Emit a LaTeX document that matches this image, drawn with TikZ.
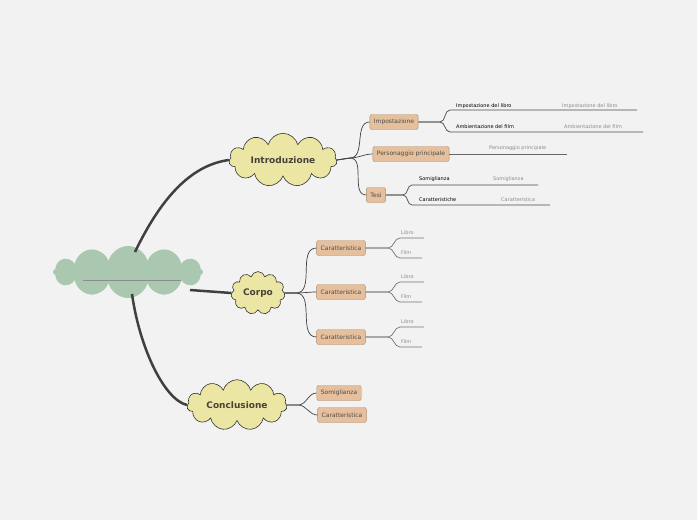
\documentclass[tikz,border=0pt]{standalone}
\usepackage{fontspec}
\setmainfont{DejaVu Sans}
\usetikzlibrary{shapes.symbols}
\begin{document}
\begin{tikzpicture}[x=1pt,y=-1pt,
  topic/.style={cloud,cloud puffs=11,draw=black!80,fill=yellow!25!orange!10!yellow!35,fill={rgb,255:red,236;green,230;blue,164},line width=0.6pt,font=\bfseries\fontsize{9}{10}\selectfont,text=black!60!yellow!40!black,inner sep=0pt},
  box/.style={draw={rgb,255:red,170;green,140;blue,110},fill={rgb,255:red,230;green,192;blue,156},rounded corners=2pt,font=\fontsize{6}{7}\selectfont,text=black!70,minimum height=15pt,inner xsep=4pt},
  leaf/.style={font=\fontsize{5}{6}\selectfont,anchor=south west,inner sep=1pt},
  grey/.style={leaf,text=black!45},
  br/.style={draw=black!75,line width=0.7pt},
  lb/.style={draw=black!70,line width=0.7pt},
  main/.style={draw=black!75,line width=2.5pt}]
\fill[black!5] (0,0) rectangle (697,520);
\useasboundingbox (0,0) rectangle (697,520);
% central
\node[cloud,cloud puffs=12,aspect=3.2,minimum width=150pt,minimum height=52pt,fill={rgb,255:red,170;green,200;blue,176},draw=none,inner sep=0pt] (c) at (128,272) {};
\draw[black!45,line width=0.5pt] (83,280) -- (181,280);
% topics
\node[topic,minimum width=108pt,minimum height=42pt,aspect=2.6] (i) at (283,160) {Introduzione};
\node[topic,minimum width=54pt,minimum height=42pt,aspect=1.2] (p) at (258,293) {Corpo};
\node[topic,minimum width=100pt,minimum height=40pt,aspect=2.6] (k) at (237,405) {Conclusione};
\draw[main] (135,252) .. controls (160,200) and (190,165) .. (i.west);
\draw[main] (190,290) -- (p.west);
\draw[main] (132,294) .. controls (140,350) and (165,400) .. (k.west);
% intro boxes
\node[box] (a1) at (394,122) {Impostazione};
\node[box] (a2) at (411,154) {Personaggio principale};
\node[box] (a3) at (376,195) {Tesi};
\foreach \n in {a1,a2,a3}{\draw[br] (i.east) -- (350,158) to[out=0,in=180] (\n.west);}
% leaves of a1
\coordinate (l1) at (450,110); \coordinate (l2) at (450,132);
\draw[lb] (a1.east) -- (440,122) to[out=0,in=180] (l1) -- (637,110);
\draw[lb] (a1.east) -- (440,122) to[out=0,in=180] (l2) -- (643,132);
\node[leaf] at (455,110) {Impostazione del libro};
\node[grey] at (561,110) {Impostazione del libro};
\node[leaf] at (455,130) {Ambientazione del film};
\node[grey] at (563,130) {Ambientazione del film};
\draw[lb,draw=black!60] (a2.east) -- (567,154);
\node[grey] at (488,152) {Personaggio principale};
\coordinate (t1) at (412,185); \coordinate (t2) at (412,205);
\draw[lb] (a3.east) -- (403,195) to[out=0,in=180] (t1) -- (538,185);
\draw[lb] (a3.east) -- (403,195) to[out=0,in=180] (t2) -- (550,205);
\node[leaf] at (418,183) {Somiglianza};
\node[grey] at (492,183) {Somiglianza};
\node[leaf] at (418,203) {Caratteristiche};
\node[grey] at (500,203) {Caratteristica};
% corpo
\foreach \y/\n in {248/b1,292/b2,337/b3}{
  \node[box] (\n) at (341,\y) {Caratteristica};
  \draw[br] (p.east) -- (296,293) to[out=0,in=180] (\n.west);
  \draw[lb,draw=black!55] (\n.east) -- (388,\y) to[out=0,in=180] (400,\y-10) -- (424,\y-10);
  \draw[lb,draw=black!55] (\n.east) -- (388,\y) to[out=0,in=180] (400,\y+10) -- (422,\y+10);
  \node[grey] at (400,\y-12) {Libro};
  \node[grey] at (400,\y+8) {Film};
}
% conclusione
\node[box] (d1) at (339,393) {Somiglianza};
\node[box] (d2) at (342,415) {Caratteristica};
\foreach \n in {d1,d2}{\draw[br] (k.east) -- (298,405) to[out=0,in=180] (\n.west);}
\end{tikzpicture}
\end{document}
